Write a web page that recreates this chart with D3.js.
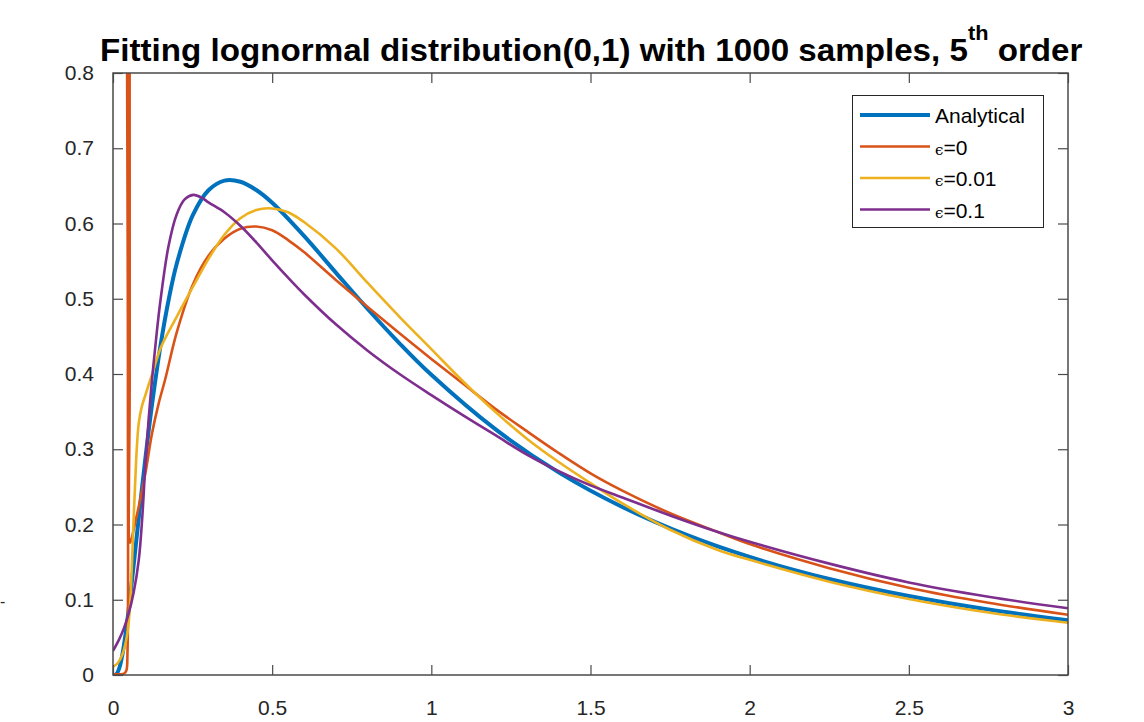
<!DOCTYPE html>
<html lang="en">
<head>
  <meta charset="UTF-8">
  <title>lognormal fit</title>
  <style>
    * { box-sizing: border-box; }
    html, body { margin: 0; padding: 0; background: #fff; }
    #main { width: 1144px; height: 722px; }
    text { font-family: "Liberation Sans", Arial, Helvetica, sans-serif; }
  </style>
</head>
<body>
  <div id="main"></div>
  <script src="https://d3js.org/d3.v7.min.js"></script>
  <script>
    // data: [x, density]
    const analytical = [
      [0, 0], [0.01, 0.001], [0.02, 0.0095], [0.03, 0.0284], [0.04, 0.0561], [0.05, 0.0899],
      [0.06, 0.1271], [0.07, 0.166], [0.08, 0.2053], [0.09, 0.2441], [0.1, 0.2815], [0.12, 0.3511],
      [0.15, 0.4399], [0.175, 0.499], [0.2, 0.5462], [0.25, 0.6104], [0.3, 0.6442], [0.35, 0.657],
      [0.4, 0.6555], [0.45, 0.6445], [0.5, 0.6276], [0.6, 0.5836], [0.7, 0.5348], [0.8, 0.4864],
      [0.9, 0.4408], [1.0, 0.3989], [1.2, 0.327], [1.4, 0.2693], [1.6, 0.2233], [1.8, 0.1865],
      [2.0, 0.1569], [2.25, 0.1276], [2.5, 0.1049], [2.75, 0.087], [3.0, 0.0727]
    ]
    const eps0 = [
      [0, 0.001], [0.02, 0.001], [0.035, 0.002], [0.042, 0.006], [0.0455, 0.03], [0.0468, 0.4],
      [0.0475, 5], [0.051, 5], [0.0518, 1.5], [0.0525, 0.4], [0.0535, 0.176], [0.058, 0.181],
      [0.07, 0.203], [0.081, 0.224], [0.1017, 0.268], [0.1225, 0.321], [0.1435, 0.361],
      [0.164, 0.393], [0.2, 0.455], [0.25, 0.518], [0.3, 0.557], [0.35, 0.58], [0.4, 0.593],
      [0.45, 0.596], [0.5, 0.591], [0.55, 0.578], [0.6, 0.562], [0.7, 0.525], [0.8, 0.489],
      [0.9, 0.454], [1.0, 0.42], [1.1, 0.387], [1.2, 0.354], [1.3, 0.324], [1.4, 0.295],
      [1.5, 0.268], [1.6, 0.245], [1.75, 0.215], [1.9, 0.19], [2.0, 0.174], [2.25, 0.142],
      [2.5, 0.116], [2.75, 0.096], [3.0, 0.08]
    ]
    const eps001 = [
      [0, 0.011], [0.015, 0.016], [0.03, 0.028], [0.045, 0.055], [0.053, 0.09], [0.06, 0.153],
      [0.065, 0.21], [0.07, 0.259], [0.075, 0.303], [0.081, 0.335], [0.09, 0.356], [0.1017, 0.372],
      [0.117, 0.392], [0.127, 0.405], [0.15, 0.435], [0.2, 0.476], [0.263, 0.525], [0.3, 0.553],
      [0.35, 0.585], [0.4, 0.607], [0.45, 0.618], [0.5, 0.62], [0.55, 0.615], [0.6, 0.602],
      [0.7, 0.567], [0.8, 0.521], [0.9, 0.476], [1.0, 0.433], [1.1, 0.39], [1.2, 0.35],
      [1.3, 0.314], [1.4, 0.283], [1.5, 0.255], [1.6, 0.228], [1.75, 0.193], [1.9, 0.166],
      [2.0, 0.153], [2.25, 0.124], [2.5, 0.101], [2.75, 0.083], [3.0, 0.0695]
    ]
    const eps01 = [
      [0, 0.032], [0.02, 0.048], [0.035, 0.063], [0.048, 0.08], [0.065, 0.11], [0.081, 0.153],
      [0.092, 0.21], [0.1017, 0.28], [0.112, 0.34], [0.1225, 0.392], [0.135, 0.445], [0.148, 0.494],
      [0.174, 0.569], [0.2, 0.612], [0.225, 0.632], [0.252, 0.638], [0.28, 0.634], [0.3, 0.628],
      [0.35, 0.615], [0.4, 0.597], [0.45, 0.575], [0.5, 0.551], [0.55, 0.528], [0.6, 0.506],
      [0.7, 0.466], [0.8, 0.431], [0.9, 0.4], [1.0, 0.372], [1.1, 0.345], [1.2, 0.319],
      [1.3, 0.293], [1.4, 0.271], [1.5, 0.252], [1.6, 0.236], [1.75, 0.212], [1.9, 0.19],
      [2.0, 0.177], [2.25, 0.148], [2.5, 0.123], [2.75, 0.104], [3.0, 0.0886]
    ]
    const seriesNames = ['Analytical', '=0', '=0.01', '=0.1']
    const seriesColors = ['#0072BD', '#D95319', '#EDB120', '#7E2F8E']
    const xTicks = [0, 0.5, 1, 1.5, 2, 2.5, 3]
    const xTickLabels = ['0', '0.5', '1', '1.5', '2', '2.5', '3']
    const yTicks = [0, 0.1, 0.2, 0.3, 0.4, 0.5, 0.6, 0.7, 0.8]
    const yTickLabels = ['0', '0.1', '0.2', '0.3', '0.4', '0.5', '0.6', '0.7', '0.8']

    const [width, height] = [1144, 722]
    const m = { left: 113, right: 1068, top: 73, bottom: 675 }

    const svg = d3.select('#main').append('svg')
      .attr('width', width)
      .attr('height', height)
      .attr('viewBox', `0 0 ${width} ${height}`)

    const x = d3.scaleLinear().domain([0, 3]).range([m.left, m.right])
    const y = d3.scaleLinear().domain([0, 0.8]).range([m.bottom, m.top])

    svg.append('clipPath').attr('id', 'clip')
      .append('rect')
      .attr('x', m.left).attr('y', m.top)
      .attr('width', m.right - m.left).attr('height', m.bottom - m.top)

    // curves
    const line = d3.line().x(d => x(d[0])).y(d => y(d[1])).curve(d3.curveCatmullRom.alpha(0.5))
    const allSeries = [analytical, eps0, eps001, eps01]
    const widths = [4, 2.6, 2.6, 2.6]
    const plot = svg.append('g').attr('clip-path', 'url(#clip)')
    allSeries.forEach((s, i) => {
      plot.append('path')
        .datum(s)
        .attr('d', line)
        .attr('fill', 'none')
        .attr('stroke', seriesColors[i])
        .attr('stroke-width', widths[i])
        .attr('stroke-linejoin', 'round')
    })

    // axes, ticks pointing inward, box on
    const axisColor = '#4a4a4a'
    const tickLen = 10
    const fmtX = (d, i) => xTickLabels[i]
    const fmtY = (d, i) => yTickLabels[i]

    const styleAxis = g => {
      g.select('.domain').remove()
      g.selectAll('.tick line').attr('stroke', axisColor).attr('stroke-width', 1.2)
      g.selectAll('.tick text').attr('fill', '#262626').style('font-size', '21px')
        .style('font-family', '"Liberation Sans", Arial, sans-serif')
    }

    svg.append('g')
      .attr('transform', `translate(0,${m.bottom})`)
      .call(d3.axisBottom(x).tickValues(xTicks).tickFormat(fmtX).tickSize(-tickLen).tickPadding(tickLen + 15))
      .call(styleAxis)
    svg.append('g')
      .attr('transform', `translate(0,${m.top})`)
      .call(d3.axisTop(x).tickValues(xTicks).tickFormat('').tickSize(-tickLen))
      .call(styleAxis)
    svg.append('g')
      .attr('transform', `translate(${m.left},0)`)
      .call(d3.axisLeft(y).tickValues(yTicks).tickFormat(fmtY).tickSize(-tickLen).tickPadding(tickLen + 9))
      .call(styleAxis)
    svg.append('g')
      .attr('transform', `translate(${m.right},0)`)
      .call(d3.axisRight(y).tickValues(yTicks).tickFormat('').tickSize(-tickLen))
      .call(styleAxis)

    svg.append('rect')
      .attr('x', m.left).attr('y', m.top)
      .attr('width', m.right - m.left).attr('height', m.bottom - m.top)
      .attr('fill', 'none')
      .attr('stroke', axisColor)
      .attr('stroke-width', 1.5)

    // title, squeezed to the width it has in the figure
    const title = svg.append('text')
      .attr('x', 0).attr('y', 61)
      .attr('font-weight', 'bold')
      .attr('fill', '#000')
      .style('font-size', '32px')
    title.append('tspan').text('Fitting lognormal distribution(0,1) with 1000 samples, 5')
    title.append('tspan').attr('dy', -21).style('font-size', '21px').text('th')
    title.append('tspan').attr('dy', 21).text(' order')
    const tw = title.node().getBBox().width
    title.attr('transform', `translate(100,0) scale(${983 / tw},1)`)

    // stray label fragment at the left edge
    svg.append('text').attr('x', 0).attr('y', 607).attr('fill', '#262626')
      .style('font-size', '16px').text('-')

    // legend
    const lg = svg.append('g')
    lg.append('rect')
      .attr('x', 852.5).attr('y', 95.5).attr('width', 191).attr('height', 132)
      .attr('fill', '#fff').attr('stroke', '#262626').attr('stroke-width', 1)
    seriesNames.forEach((name, i) => {
      const cy = 115 + i * 31.5
      lg.append('line')
        .attr('x1', 860).attr('x2', 930).attr('y1', cy).attr('y2', cy)
        .attr('stroke', seriesColors[i]).attr('stroke-width', widths[i])
      const t = lg.append('text').attr('x', 935).attr('y', cy + 8)
        .attr('fill', '#000').style('font-size', '21px')
      if (i === 0) {
        t.text(name)
      } else {
        t.append('tspan').style('font-family', '"DejaVu Serif", serif').style('font-size', '15px').text('ϵ')
        t.append('tspan').text(name)
      }
    })
  </script>
</body>
</html>
